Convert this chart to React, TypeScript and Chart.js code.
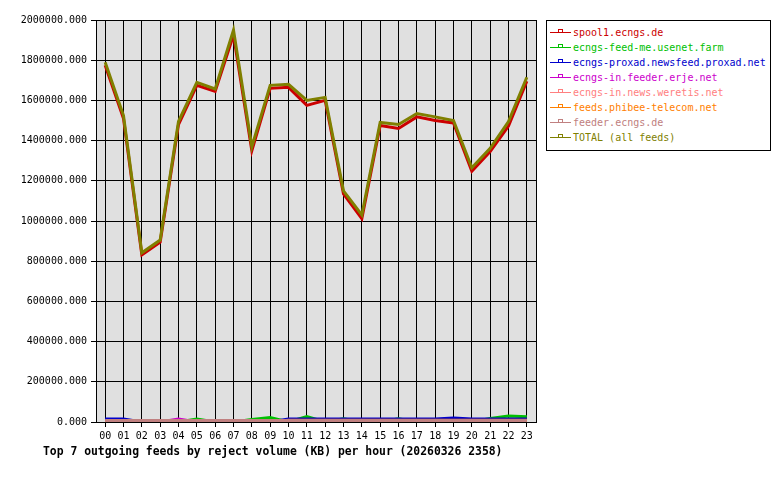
import React, { useEffect, useRef } from "react";
import { Chart, registerables } from "chart.js";

Chart.register(...registerables);

const hours = ["00","01","02","03","04","05","06","07","08","09","10","11","12","13","14","15","16","17","18","19","20","21","22","23"];

const yMax = 2000000;
const yStep = 200000;

const seriesNames = [
  "spool1.ecngs.de",
  "ecngs-feed-me.usenet.farm",
  "ecngs-proxad.newsfeed.proxad.net",
  "ecngs-in.feeder.erje.net",
  "ecngs-in.news.weretis.net",
  "feeds.phibee-telecom.net",
  "feeder.ecngs.de",
  "TOTAL (all feeds)",
];

const seriesColors = ["#cc0000", "#00c000", "#0000cc", "#cc00cc", "#ff8080", "#ff8000", "#c08080", "#808000"];

const spool1 = [1775000, 1510000, 832000, 895000, 1480000, 1675000, 1645000, 1925000, 1350000, 1660000, 1665000, 1575000, 1600000, 1135000, 1012000, 1475000, 1460000, 1518000, 1500000, 1488000, 1248000, 1345000, 1472000, 1695000];
const feedMe = [0, 0, 0, 0, 0, 15000, 0, 0, 12000, 22000, 0, 27000, 0, 16000, 0, 0, 16000, 0, 0, 0, 0, 18000, 30000, 26000];
const proxad = [15000, 15000, 0, 0, 0, 0, 0, 0, 0, 0, 15000, 15000, 15000, 15000, 15000, 15000, 15000, 15000, 15000, 20000, 15000, 15000, 15000, 15000];
const erje = [0, 0, 0, 0, 15000, 0, 0, 0, 0, 0, 0, 0, 0, 0, 0, 0, 0, 0, 0, 0, 0, 0, 0, 0];
const weretis = [0, 0, 0, 0, 0, 0, 0, 0, 0, 0, 0, 0, 0, 0, 0, 0, 0, 0, 0, 0, 0, 0, 0, 0];
const phibee = [0, 0, 0, 0, 0, 0, 0, 0, 0, 0, 9000, 9000, 9000, 9000, 9000, 9000, 9000, 9000, 9000, 9000, 9000, 9000, 9000, 9000];
const feeder = [7000, 7000, 7000, 7000, 7000, 7000, 7000, 7000, 7000, 7000, 7000, 7000, 7000, 7000, 7000, 7000, 7000, 7000, 7000, 7000, 7000, 7000, 7000, 7000];
const total = [1790000, 1525000, 842000, 905000, 1495000, 1690000, 1657000, 1950000, 1370000, 1675000, 1680000, 1600000, 1615000, 1150000, 1030000, 1490000, 1480000, 1535000, 1518000, 1500000, 1265000, 1362000, 1495000, 1715000];

const seriesData = [spool1, feedMe, proxad, erje, weretis, phibee, feeder, total];

const titleText = "Top 7 outgoing feeds by reject volume (KB) per hour (20260326 2358)";

const FONT = "'DejaVu Sans Mono', 'Liberation Mono', monospace";

const plotFrame = {
  id: "plotFrame",
  beforeDraw(chart: any) {
    const { ctx, chartArea } = chart;
    ctx.save();
    ctx.fillStyle = "#e0e0e0";
    ctx.fillRect(chartArea.left, chartArea.top, chartArea.right - chartArea.left, chartArea.bottom - chartArea.top);
    ctx.restore();
  },
  afterDraw(chart: any) {
    const { ctx, chartArea } = chart;
    ctx.save();
    ctx.strokeStyle = "#000";
    ctx.lineWidth = 1;
    ctx.strokeRect(Math.round(chartArea.left) + 0.5, Math.round(chartArea.top) + 0.5, Math.round(chartArea.right - chartArea.left), Math.round(chartArea.bottom - chartArea.top));
    ctx.restore();
  },
};

export default function App() {
  const ref = useRef<HTMLCanvasElement | null>(null);

  useEffect(() => {
    if (!ref.current) return;
    const n = seriesData.length;
    const chart = new Chart(ref.current, {
      type: "line",
      data: {
        labels: hours,
        datasets: seriesData.map((d, i) => ({
          label: seriesNames[i],
          data: d,
          borderColor: seriesColors[i],
          backgroundColor: seriesColors[i],
          borderWidth: 3,
          pointRadius: 0,
          tension: 0,
          fill: false,
          clip: 0,
          order: n - 1 - i,
        })),
      },
      options: {
        animation: false,
        responsive: false,
        maintainAspectRatio: false,
        layout: { padding: { left: 0, top: 20, right: 244, bottom: 28 } },
        plugins: {
          legend: { display: false },
          title: { display: false },
          tooltip: { enabled: false },
        },
        scales: {
          x: {
            type: "category",
            offset: true,
            grid: { color: "#000", lineWidth: 1, tickLength: 5, drawTicks: true, offset: false },
            border: { display: true, color: "#000" },
            ticks: { color: "#000", font: { family: FONT, size: 10 }, padding: 3, maxRotation: 0, autoSkip: false },
            afterFit(scale: any) { scale.height = 30; },
          },
          y: {
            min: 0,
            max: yMax,
            grid: { color: "#000", lineWidth: 1, tickLength: 5 },
            border: { display: true, color: "#000" },
            ticks: {
              stepSize: yStep,
              color: "#000",
              padding: 4,
              font: { family: FONT, size: 10 },
              callback: (v: any) => Number(v).toFixed(3),
            },
            afterFit(scale: any) { scale.width = 96; },
          },
        },
      },
      plugins: [plotFrame],
    });
    return () => chart.destroy();
  }, []);

  return (
    <div style={{ position: "absolute", left: 0, top: 0, width: 780, height: 480, background: "#fff" }}>
      <canvas ref={ref} width={780} height={480} style={{ position: "absolute", left: 0, top: 0, width: 780, height: 480 }} />
      <div
        style={{
          position: "absolute",
          left: 546,
          top: 20,
          width: 223,
          height: 129,
          border: "1px solid #000",
          background: "#fff",
        }}
      />
      {seriesNames.map((name, i) => (
        <div key={name} style={{ position: "absolute", left: 550, top: 25 + i * 15, height: 15, width: 220 }}>
          <div style={{ position: "absolute", left: 0, top: 7, width: 21, height: 1, background: seriesColors[i] }} />
          <div
            style={{
              position: "absolute",
              left: 8,
              top: 4,
              width: 3,
              height: 3,
              border: `1px solid ${seriesColors[i]}`,
              borderBottom: "none",
            }}
          />
          <div
            style={{
              position: "absolute",
              left: 23,
              top: 0,
              lineHeight: "15px",
              fontFamily: FONT,
              fontSize: 10,
              color: seriesColors[i],
              whiteSpace: "nowrap",
            }}
          >
            {name}
          </div>
        </div>
      ))}
      <div
        style={{
          position: "absolute",
          left: 43,
          top: 444,
          lineHeight: "15px",
          fontFamily: FONT,
          fontSize: 11.4,
          fontWeight: "bold",
          color: "#000",
          whiteSpace: "nowrap",
        }}
      >
        {titleText}
      </div>
    </div>
  );
}
